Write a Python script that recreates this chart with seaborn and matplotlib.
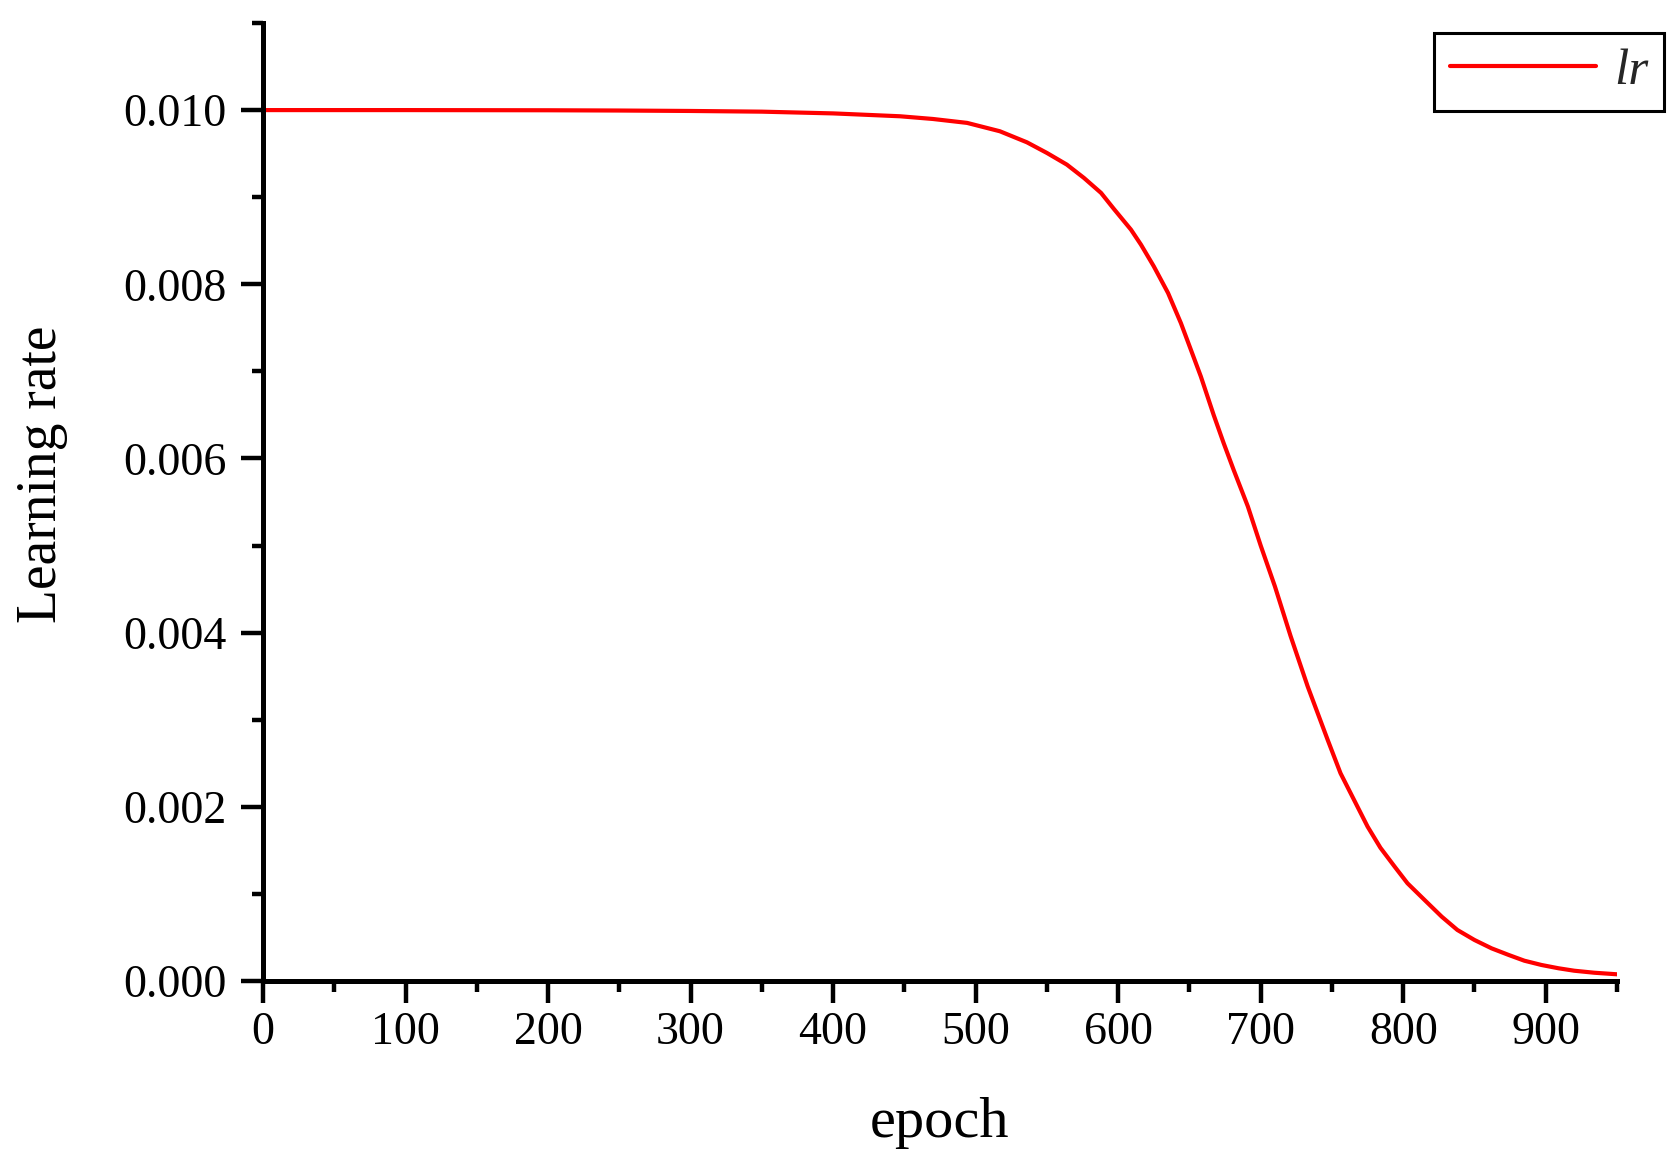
import numpy as np
import pandas as pd
import seaborn as sb
from matplotlib import pyplot as plt
from matplotlib.ticker import MultipleLocator, FormatStrFormatter

# * values (lr in units of 1e-3)
epochs = [0, 100, 200, 250, 300, 350, 400, 420, 447, 470, 494, 517, 536, 550, 564,
          576, 588, 597, 609, 616, 625, 635, 644, 651, 658, 667, 674, 681, 691,
          700, 710, 721, 733, 740, 747, 756, 775, 784, 794, 803, 815, 827, 838,
          850, 862, 874, 885, 897, 909, 920, 934, 950]
lr_milli = [10.0, 10.0, 9.998, 9.995, 9.99, 9.982, 9.962, 9.948, 9.929, 9.898, 9.853,
            9.757, 9.630, 9.508, 9.374, 9.221, 9.049, 8.865, 8.627, 8.455, 8.206,
            7.900, 7.555, 7.249, 6.942, 6.500, 6.177, 5.870, 5.449, 5.000, 4.530,
            3.960, 3.381, 3.075, 2.769, 2.386, 1.773, 1.530, 1.313, 1.122, 0.930,
            0.739, 0.586, 0.471, 0.375, 0.299, 0.233, 0.184, 0.146, 0.118, 0.095,
            0.077]

x_ticks = [0, 100, 200, 300, 400, 500, 600, 700, 800, 900]
y_ticks = [0.000, 0.002, 0.004, 0.006, 0.008, 0.010]

df = pd.DataFrame({"epoch": epochs, "lr": np.array(lr_milli) / 1000})

# * theme
sb.set_theme(style="ticks")
plt.rcParams["font.family"] = ["Liberation Serif", "DejaVu Serif"]

W, H = 1681, 1176
fig = plt.figure(figsize=(W / 100, H / 100), dpi=100)
ax = fig.add_axes([263 / W, 1 - 981 / H, (1617 - 263) / W, (981 - 23) / H])

sb.lineplot(data=df, x="epoch", y="lr", color="#ff0000", linewidth=3, label="lr", ax=ax)

# * axes limits and ticks
ax.set_xlim(0, 950)
ax.set_ylim(0, 0.011)
ax.set_xticks(x_ticks)
ax.set_yticks(y_ticks)
ax.xaxis.set_minor_locator(MultipleLocator(50))
ax.yaxis.set_minor_locator(MultipleLocator(0.001))
ax.yaxis.set_major_formatter(FormatStrFormatter("%.3f"))

for side in ["top", "right"]:
    ax.spines[side].set_visible(False)
for side in ["left", "bottom"]:
    ax.spines[side].set_linewidth(3.6)
    ax.spines[side].set_color("black")

ax.tick_params(which="major", direction="out", length=16, width=3.2, color="black",
               labelsize=33, labelcolor="black")
ax.tick_params(which="minor", direction="out", length=8, width=3.2, color="black")
ax.tick_params(axis="x", which="major", pad=6)
ax.tick_params(axis="y", which="major", pad=10)

# * labels
ax.set_xlabel("epoch", fontsize=42, color="black")
ax.set_ylabel("Learning rate", fontsize=40, color="black")
ax.xaxis.set_label_coords(0.5, -0.148)
ax.xaxis.label.set_va("center")
ax.yaxis.set_label_coords(-0.163, 0.529)
ax.yaxis.label.set_va("center")

# * legend box sits slightly outside the axes on the right
leg = ax.legend(loc="upper right", bbox_to_anchor=(1664 / W, 1 - 33 / H),
                bbox_transform=fig.transFigure, borderaxespad=0,
                prop={"style": "italic", "size": 37}, handlelength=2.85,
                handletextpad=0.35, borderpad=0.3, frameon=True, fancybox=False,
                framealpha=1, edgecolor="black")
leg.get_frame().set_linewidth(2.2)

ax.set_facecolor("white")
fig.patch.set_facecolor("white")
plt.savefig("out.png", dpi=100)
plt.close()
